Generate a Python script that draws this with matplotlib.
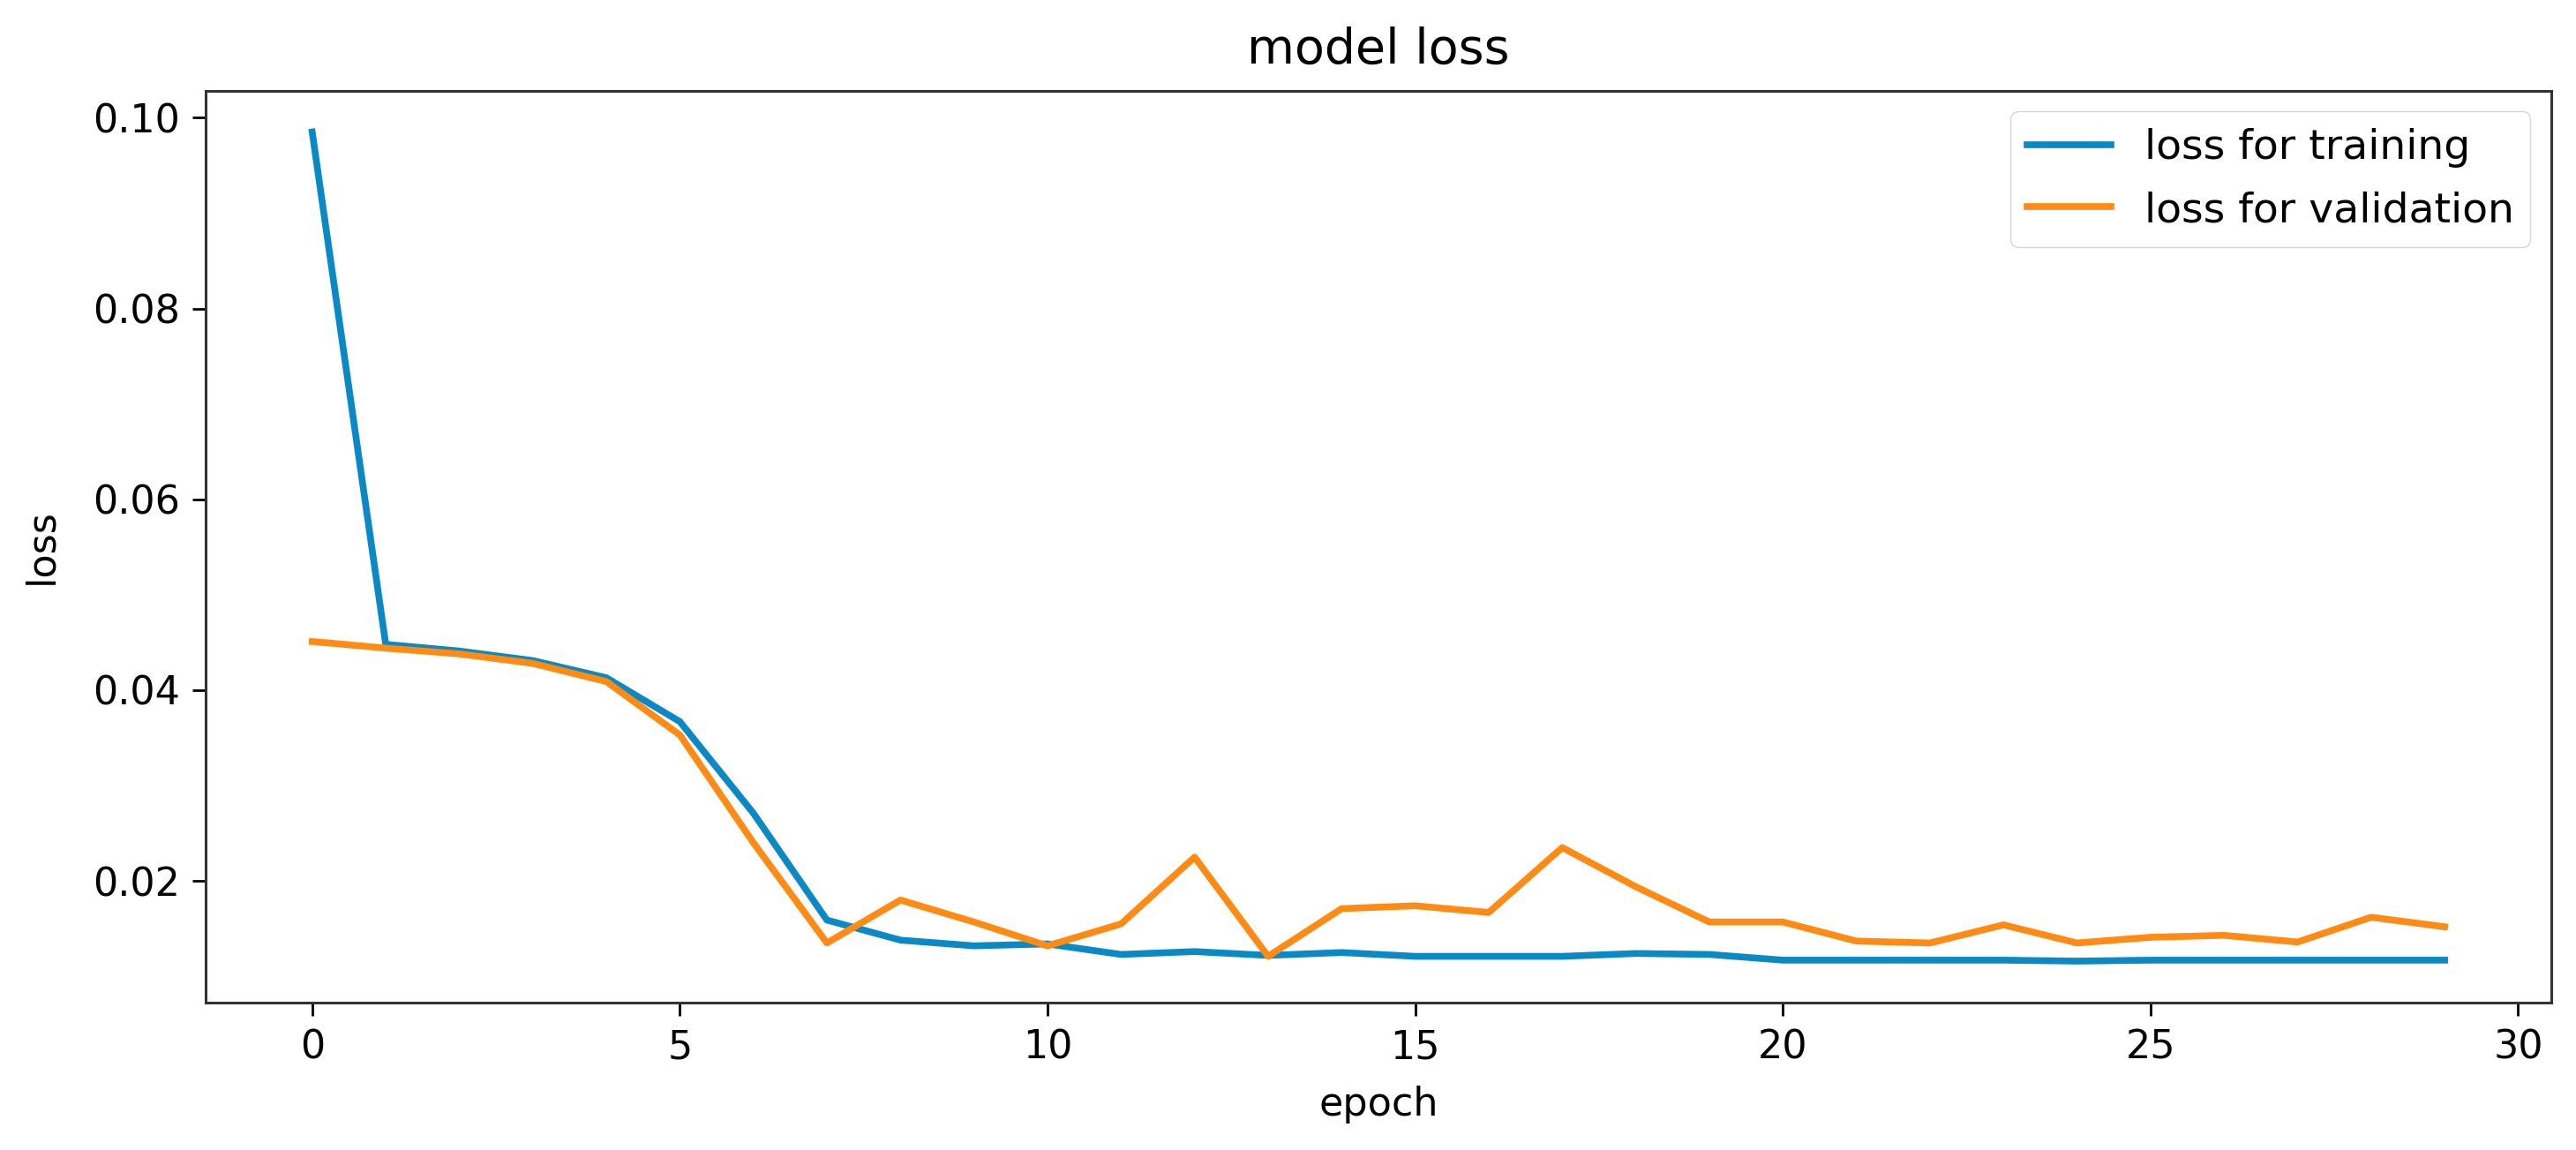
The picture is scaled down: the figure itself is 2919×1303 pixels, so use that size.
import numpy as np
import matplotlib
matplotlib.use("Agg")
import matplotlib.pyplot as plt

# values
epochs = np.arange(30)
train_loss = [0.0985, 0.0448, 0.0441, 0.0431, 0.0413, 0.0367, 0.0271, 0.0159,
              0.0138, 0.0132, 0.0134, 0.0123, 0.0126, 0.0122, 0.0125, 0.0121,
              0.0121, 0.0121, 0.0124, 0.0123, 0.0117, 0.0117, 0.0117, 0.0117,
              0.0116, 0.0117, 0.0117, 0.0117, 0.0117, 0.0117]
val_loss = [0.0451, 0.0444, 0.0438, 0.0428, 0.0409, 0.0353, 0.0240, 0.0135,
            0.0180, 0.0157, 0.0132, 0.0155, 0.0225, 0.0121, 0.0171, 0.0174,
            0.0167, 0.0235, 0.0194, 0.0157, 0.0157, 0.0137, 0.0135, 0.0154,
            0.0135, 0.0141, 0.0143, 0.0136, 0.0162, 0.0152]
series_labels = ["loss for training", "loss for validation"]

fs = 32
fig, ax = plt.subplots(figsize=(29.19, 13.03), dpi=100)
fig.subplots_adjust(left=0.0798, right=0.9904, bottom=0.1282, top=0.9213)

ax.plot(epochs, train_loss, color="#0a89c4", lw=5.5, label=series_labels[0])
ax.plot(epochs, val_loss, color="#ff8a14", lw=5.5, label=series_labels[1])

ax.set_title("model loss", fontsize=40, pad=22)
ax.set_xlabel("epoch", fontsize=fs, labelpad=16)
ax.set_ylabel("loss", fontsize=fs, labelpad=26)
ax.set_xticks([0, 5, 10, 15, 20, 25, 30])
ax.set_yticks([0.02, 0.04, 0.06, 0.08, 0.10])
ax.set_yticklabels(["0.02", "0.04", "0.06", "0.08", "0.10"])
ax.tick_params(labelsize=fs, length=11, width=2, pad=10)
for sp in ax.spines.values():
    sp.set_linewidth(2.2)
    sp.set_color("#333333")

leg = ax.legend(loc="upper right", fontsize=34, handlelength=2.0,
                borderaxespad=0.5, labelspacing=0.55)
for line in leg.get_lines():
    line.set_linewidth(5.5)

fig.savefig("out.png", dpi=100)
